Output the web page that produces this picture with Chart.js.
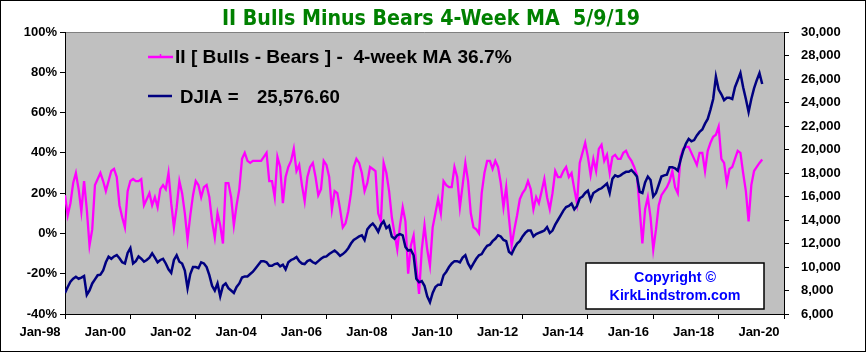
<!DOCTYPE html>
<html><head><meta charset="utf-8">
<script src="https://cdn.jsdelivr.net/npm/chart.js@4.4.1/dist/chart.umd.min.js"></script>
<style>html,body{margin:0;padding:0;background:#fff;}#wrap{width:868px;height:355px;}</style>
</head><body><div id="wrap"><canvas id="c" width="868" height="355"></canvas></div>
<script>
// ---- data (monthly, Jan 1998 .. May 2019) ----
const startYear = 1998;
const titleText = 'II Bulls Minus Bears 4-Week MA  5/9/19';
const legendBB = 'II [ Bulls - Bears ] -  4-week MA 36.7%';
const legendDJ = 'DJIA =';
const legendDJValue = '25,576.60';
const copyrightLines = ['Copyright \u00A9', 'KirkLindstrom.com'];
const pctTicks = [-40, -20, 0, 20, 40, 60, 80, 100];
const djiaTicks = [6000, 8000, 10000, 12000, 14000, 16000, 18000, 20000, 22000, 24000, 26000, 28000, 30000];
const xTickYears = [1998, 2000, 2002, 2004, 2006, 2008, 2010, 2012, 2014, 2016, 2018, 2020];

// II Bulls minus Bears, 4-week MA (%)
const bullsMinusBears = [
19,9,15,25,30,22,11,26,12,-6,2,24,
27,30,26,21,26,31,32,28,14,8,3,21,
26,27,26,26,27,14,17,20,14,18,13,22,
24,22,30,15,3,13,26,20,10,-3,9,19,
26,24,18,23,24,18,6,-2,10,4,-5,25,
25,18,4,14,22,37,40,36,35,36,36,36,
36,38,40,26,26,18,38,33,15,28,33,36,
42,31,34,24,16,28,33,35,28,19,22,36,
34,28,12,21,20,12,3,5,11,20,33,37,
35,30,21,25,33,32,31,10,6,35,30,21,
8,0,-8,4,13,6,-20,-6,-1,-16,-30,-8,
4,-8,-16,3,10,17,10,26,24,23,23,33,
28,13,24,35,26,10,3,2,0,20,30,36,
36,32,36,33,25,13,23,8,-6,2,9,17,
20,22,26,22,12,18,15,21,27,18,12,20,
31,28,28,31,33,28,30,22,15,35,40,45,
38,29,37,31,42,44,36,39,30,38,39,37,
37,40,41,38,36,33,29,12,-5,12,18,8,
-8,2,14,19,21,23,26,31,23,20,38,42,
43,43,40,37,34,40,40,31,41,45,48,49,
53,37,35,25,32,33,37,41,40,30,21,6,
24,31,33,35,36.7
];

// Dow Jones Industrial Average
const djia = [
7800,8300,8750,9000,9170,9000,9100,9230,7620,8000,8600,8950,
9300,9350,9700,10400,10880,10700,10900,11020,10740,10400,10300,11200,
11600,10300,10500,10900,10700,10450,10600,10800,11170,10800,10400,10600,
10700,10300,9800,9500,10600,11000,10450,10300,9700,8200,9400,10000,
10000,9900,10400,10300,10000,9300,8400,8000,8600,7500,8400,8600,
8200,8000,7800,8300,8600,9100,9200,9200,9400,9600,9900,10200,
10500,10500,10400,10100,10100,10250,10300,10050,10200,9800,10400,10600,
10700,10850,10500,10300,10250,10500,10600,10400,10300,10500,10700,10850,
10900,11100,11250,11400,11200,10950,11100,11300,11600,12000,12300,12450,
12600,12700,12300,13200,13500,13700,13400,13000,13600,13900,13300,13500,
12600,12400,12700,12800,12700,11700,11400,11450,11000,9000,8700,8800,
8400,7500,7000,7800,8300,8500,8500,9300,9600,10000,10300,10500,
10500,10400,10800,11000,10300,9900,10300,10700,11000,11100,11500,11800,
11900,12200,12400,12700,12600,12300,12200,11300,11100,11600,12000,12200,
12600,12900,13100,13100,12600,12800,12900,13000,13100,13400,12900,13100,
13600,14000,14400,14800,15100,15200,15400,14900,15200,15850,16000,16300,
16500,15700,16300,16450,16600,16700,16900,17100,16300,17500,17800,17700,
17800,17970,18100,18100,18250,18000,17700,16400,16300,17200,17700,17400,
16000,16300,17000,17700,17800,17850,18500,18500,18400,18200,19100,19900,
20500,20900,20700,20800,21200,21500,21700,22200,22600,23400,24300,26200,
25100,24700,24200,24400,24400,24300,25300,25900,26500,25300,24300,23200,
24300,25200,25900,26500,25577
];

// ---- chart ----
const FONT = '"Liberation Sans", Arial, Helvetica, sans-serif';
const NARROW = '"Liberation Sans Narrow", "Arial Narrow", "DejaVu Sans Condensed", "Liberation Sans", sans-serif';
const xMax = (xTickYears[xTickYears.length - 1] - startYear) * 12;

function fitText(ctx, text, family, weight, targetWidth) {
  ctx.font = weight + ' 100px ' + family;
  const w = ctx.measureText(text).width;
  return 100 * targetWidth / w;
}

const decor = {
  id: 'decor',
  beforeDraw(chart) {
    const ctx = chart.ctx, a = chart.chartArea;
    ctx.save();
    ctx.fillStyle = '#ffffff';
    ctx.fillRect(0, 0, chart.width, chart.height);
    ctx.fillStyle = '#C0C0C0';
    ctx.fillRect(a.left, a.top, a.right - a.left, a.bottom - a.top);
    ctx.strokeStyle = '#808080';
    ctx.lineWidth = 1;
    ctx.beginPath();
    ctx.moveTo(a.left, a.top + 0.5);
    ctx.lineTo(a.right, a.top + 0.5);
    ctx.stroke();
    ctx.restore();
  },
  afterDraw(chart) {
    const ctx = chart.ctx;
    ctx.save();
    // title
    let s = fitText(ctx, titleText, NARROW, 'bold', 418);
    ctx.font = 'bold ' + s + 'px ' + NARROW;
    ctx.fillStyle = '#008000';
    ctx.textAlign = 'left';
    ctx.textBaseline = 'alphabetic';
    ctx.fillText(titleText, 222, 25);
    // legend
    ctx.lineWidth = 2.5;
    ctx.strokeStyle = '#FF00FF';
    ctx.beginPath(); ctx.moveTo(148, 57); ctx.lineTo(173, 57); ctx.stroke();
    ctx.lineWidth = 1.5;
    ctx.beginPath(); ctx.moveTo(160.5, 54); ctx.lineTo(160.5, 57); ctx.stroke();
    ctx.lineWidth = 2.5;
    ctx.strokeStyle = '#000080';
    ctx.beginPath(); ctx.moveTo(148, 96); ctx.lineTo(172, 96); ctx.stroke();
    ctx.fillStyle = '#000000';
    s = fitText(ctx, legendBB, FONT, 'bold', 337);
    ctx.font = 'bold ' + s + 'px ' + FONT;
    ctx.fillText(legendBB, 175, 63);
    s = fitText(ctx, legendDJValue, FONT, 'bold', 83);
    ctx.font = 'bold ' + s + 'px ' + FONT;
    ctx.fillText(legendDJ, 180, 103);
    ctx.fillText(legendDJValue, 257, 103);
    // copyright box
    ctx.fillStyle = '#ffffff';
    ctx.fillRect(586, 263, 178, 46);
    ctx.strokeStyle = '#000000';
    ctx.lineWidth = 1.5;
    ctx.strokeRect(586, 263, 178, 46);
    ctx.fillStyle = '#0000FF';
    ctx.textAlign = 'center';
    s = fitText(ctx, copyrightLines[1], FONT, 'bold', 131);
    ctx.font = 'bold ' + s + 'px ' + FONT;
    ctx.fillText(copyrightLines[0], 675, 282);
    ctx.fillText(copyrightLines[1], 675, 300);
    // outer border
    ctx.strokeStyle = '#000000';
    ctx.lineWidth = 1;
    ctx.strokeRect(0.5, 0.5, 865, 351);
    ctx.restore();
  }
};

const tickFont = { family: FONT, weight: 'bold', size: 13 };

new Chart(document.getElementById('c'), {
  type: 'line',
  data: {
    datasets: [
      {
        label: 'DJIA',
        data: djia.map((v, i) => ({ x: i, y: v })),
        yAxisID: 'y2',
        borderColor: '#000080',
        borderWidth: 2.5,
        pointRadius: 0,
        tension: 0
      },
      {
        label: 'II Bulls - Bears',
        data: bullsMinusBears.map((v, i) => ({ x: i, y: v })),
        yAxisID: 'y',
        borderColor: '#FF00FF',
        borderWidth: 2.3,
        pointRadius: 0,
        tension: 0
      }
    ]
  },
  options: {
    responsive: false,
    animation: false,
    devicePixelRatio: 1,
    layout: { padding: { top: 32, left: 0, right: 0, bottom: 0 } },
    plugins: { legend: { display: false }, tooltip: { enabled: false }, title: { display: false } },
    scales: {
      x: {
        type: 'linear', position: 'bottom', min: 0, max: xMax,
        afterBuildTicks(scale) { scale.ticks = xTickYears.map(y => ({ value: (y - startYear) * 12 })); },
        afterFit(scale) { scale.height = 41; },
        ticks: {
          color: '#000', font: tickFont, maxRotation: 0, autoSkip: false, padding: 6, labelOffset: -25,
          callback: v => 'Jan-' + String((startYear + v / 12) % 100).padStart(2, '0')
        },
        grid: { drawOnChartArea: false, drawTicks: true, tickLength: 5, color: '#000' },
        border: { display: true, color: '#000', width: 1 }
      },
      y: {
        position: 'left', min: -40, max: 100,
        afterBuildTicks(scale) { scale.ticks = pctTicks.map(v => ({ value: v })); },
        afterFit(scale) { scale.width = 65; },
        ticks: { color: '#000', font: tickFont, padding: 3, callback: v => v + '%' },
        grid: { drawOnChartArea: false, drawTicks: true, tickLength: 5, color: '#000' },
        border: { display: true, color: '#000', width: 1 }
      },
      y2: {
        position: 'right', min: 6000, max: 30000,
        afterBuildTicks(scale) { scale.ticks = djiaTicks.map(v => ({ value: v })); },
        afterFit(scale) { scale.width = 84; },
        ticks: { color: '#000', font: tickFont, padding: 12, callback: v => v.toLocaleString('en-US') },
        grid: { drawOnChartArea: false, drawTicks: true, tickLength: 5, color: '#000' },
        border: { display: true, color: '#000', width: 1 }
      }
    }
  },
  plugins: [decor]
});
</script>
</body></html>
